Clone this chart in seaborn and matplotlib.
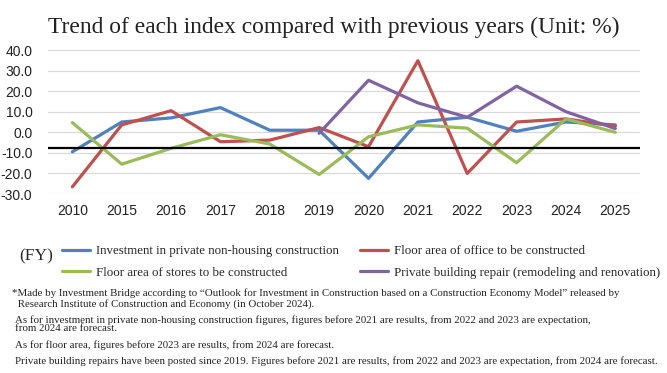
#! /usr/bin/env python3
'''
Trend of each index compared with previous years (line chart, 4 series)
'''
import matplotlib
matplotlib.use('Agg')
import matplotlib.pyplot as plt
import numpy as np
import pandas as pd
import seaborn as sns

# data
years = ['2010', '2015', '2016', '2017', '2018', '2019', '2020', '2021', '2022', '2023', '2024', '2025']
investment = [-9.5, 5.0, 7.0, 12.0, 1.0, 1.0, -22.4, 5.0, 7.3, 0.5, 5.0, 3.6]
office = [-26.5, 3.6, 10.5, -4.6, -3.8, 2.3, -7.0, 34.8, -20.0, 5.0, 6.5, 3.0]
stores = [4.7, -15.5, -7.8, -1.2, -5.7, -20.5, -2.2, 3.6, 2.0, -14.8, 6.5, 0.0]
repair = [np.nan, np.nan, np.nan, np.nan, np.nan, -0.5, 25.3, 14.3, 7.3, 22.4, 10.0, 1.8]
series = ['Investment in private non-housing construction',
          'Floor area of office to be constructed',
          'Floor area of stores to be constructed',
          'Private building repair (remodeling and renovation)']
colors = ['#4F81BD', '#C0504D', '#9BBB59', '#8064A2']
baseline = -7.5

title = 'Trend of each index compared with previous years (Unit: %)'
notes = [
    '*Made by Investment Bridge according to \u201cOutlook for Investment in Construction based on a Construction Economy Model\u201d released by',
    ' Research Institute of Construction and Economy (in October 2024).',
    'As for investment in private non-housing construction figures, figures before 2021 are results, from 2022 and 2023 are expectation,',
    'from 2024 are forecast.',
    'As for floor area, figures before 2023 are results, from 2024 are forecast.',
    'Private building repairs have been posted since 2019. Figures before 2021 are results, from 2022 and 2023 are expectation, from 2024 are forecast.',
]

df = pd.concat([pd.DataFrame({'year': years, 'value': v, 'series': s})
                for v, s in zip([investment, office, stores, repair], series)])
df = df.dropna()

sns.set_style('white')
plt.rcParams['font.family'] = ['Liberation Sans', 'DejaVu Sans']
serif = ['Liberation Serif', 'DejaVu Serif']

W, H = 667, 373
fig = plt.figure(figsize=(W / 100, H / 100), dpi=100)
ax = fig.add_axes([47.7 / W, 1 - 194 / H, (640 - 47.7) / W, (194 - 50) / H])

ax.yaxis.grid(True, color='#D9D9D9', linewidth=0.9)
ax.set_axisbelow(True)
sns.lineplot(data=df, x='year', y='value', hue='series', hue_order=series,
             palette=colors, linewidth=2.3, sort=False, ax=ax, legend=True)
ax.axhline(baseline, color='black', linewidth=1.6, zorder=5)

ax.set_xlim(-0.5, len(years) - 0.5)
ax.set_ylim(-30, 40)
ax.set_yticks(np.arange(-30, 41, 10))
ax.set_yticklabels(['%.1f' % t for t in np.arange(-30, 41, 10)])
ax.tick_params(axis='both', length=0, labelsize=10, colors='#222222')
ax.tick_params(axis='y', pad=11)
ax.tick_params(axis='x', pad=7)
ax.set_xlabel('')
ax.set_ylabel('')
sns.despine(ax=ax, left=True, bottom=True)

# legend: two rows, order so rows read investment/office, stores/repair
handles, labels = ax.get_legend_handles_labels()
ax.get_legend().remove()
order = [0, 2, 1, 3]
fig.legend([handles[i] for i in order], [labels[i] for i in order], ncol=2,
           loc='upper left', bbox_to_anchor=(62 / W, 1 - 245 / H), frameon=False,
           prop={'family': serif, 'size': 9.3}, handlelength=2.2, handletextpad=0.45,
           columnspacing=1.6, labelspacing=0.75, borderpad=0, borderaxespad=0)
for h in fig.legends[0].legend_handles:
    h.set_linewidth(2.3)

fig.text(19 / W, 1 - 256 / H, '(FY)', family=serif, fontsize=12.5, va='center')
fig.text(334 / W, 1 - 27 / H, title, family=serif, fontsize=16.9, ha='center', va='center', color='#222222')

note_pos = [(12, 292.7), (15, 304), (15, 320), (15, 328.7), (15, 345), (15, 360.7)]
for (x, y), t in zip(note_pos, notes):
    fig.text(x / W, 1 - y / H, t, family=serif, fontsize=7.8, va='center', color='#222222')

fig.savefig('out.png', dpi=100)
